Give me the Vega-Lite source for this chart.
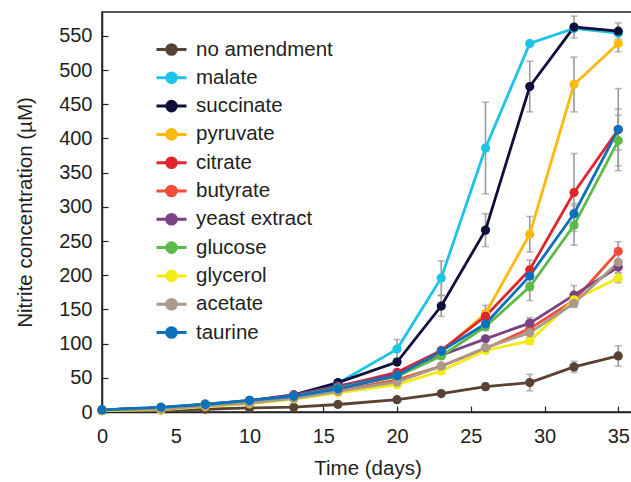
{
  "$schema": "https://vega.github.io/schema/vega-lite/v6.json",
  "autosize": {"type": "none"},
  "padding": {"left": 102, "top": 12, "right": 0, "bottom": 70},
  "width": 531,
  "height": 400,
  "background": "white",
  "config": {
    "font": "Liberation Sans",
    "view": {"stroke": "#222", "strokeWidth": 1.5},
    "axis": {"labelFontSize": 20, "titleFontSize": 20.5, "labelColor": "#231f20", "titleColor": "#231f20", "titleFontWeight": "normal", "domainColor": "#222", "domainWidth": 1.5, "tickColor": "#222", "tickWidth": 1.2, "grid": false, "labelFlush": false}
  },
  "data": {"values": [
    {"s":"no amendment","d":0,"v":2,"e":0},{"s":"no amendment","d":4,"v":3,"e":0},{"s":"no amendment","d":7,"v":4,"e":0},{"s":"no amendment","d":10,"v":6,"e":0},{"s":"no amendment","d":13,"v":7,"e":0},{"s":"no amendment","d":16,"v":11,"e":0},{"s":"no amendment","d":20,"v":18,"e":0},{"s":"no amendment","d":23,"v":27,"e":0},{"s":"no amendment","d":26,"v":37,"e":5},{"s":"no amendment","d":29,"v":43,"e":12},{"s":"no amendment","d":32,"v":66,"e":8},{"s":"no amendment","d":35,"v":82,"e":15},
    {"s":"malate","d":0,"v":3,"e":0},{"s":"malate","d":4,"v":6,"e":0},{"s":"malate","d":7,"v":11,"e":0},{"s":"malate","d":10,"v":16,"e":0},{"s":"malate","d":13,"v":24,"e":0},{"s":"malate","d":16,"v":42,"e":0},{"s":"malate","d":20,"v":92,"e":14},{"s":"malate","d":23,"v":196,"e":25},{"s":"malate","d":26,"v":386,"e":67},{"s":"malate","d":29,"v":539,"e":0},{"s":"malate","d":32,"v":561,"e":0},{"s":"malate","d":35,"v":554,"e":0},
    {"s":"succinate","d":0,"v":3,"e":0},{"s":"succinate","d":4,"v":6,"e":0},{"s":"succinate","d":7,"v":11,"e":0},{"s":"succinate","d":10,"v":16,"e":0},{"s":"succinate","d":13,"v":25,"e":0},{"s":"succinate","d":16,"v":43,"e":0},{"s":"succinate","d":20,"v":73,"e":0},{"s":"succinate","d":23,"v":155,"e":15},{"s":"succinate","d":26,"v":266,"e":24},{"s":"succinate","d":29,"v":476,"e":37},{"s":"succinate","d":32,"v":563,"e":16},{"s":"succinate","d":35,"v":557,"e":12},
    {"s":"pyruvate","d":0,"v":3,"e":0},{"s":"pyruvate","d":4,"v":5,"e":0},{"s":"pyruvate","d":7,"v":10,"e":0},{"s":"pyruvate","d":10,"v":14,"e":0},{"s":"pyruvate","d":13,"v":21,"e":0},{"s":"pyruvate","d":16,"v":35,"e":0},{"s":"pyruvate","d":20,"v":55,"e":0},{"s":"pyruvate","d":23,"v":88,"e":0},{"s":"pyruvate","d":26,"v":144,"e":12},{"s":"pyruvate","d":29,"v":260,"e":26},{"s":"pyruvate","d":32,"v":479,"e":40},{"s":"pyruvate","d":35,"v":539,"e":12},
    {"s":"citrate","d":0,"v":3,"e":0},{"s":"citrate","d":4,"v":6,"e":0},{"s":"citrate","d":7,"v":11,"e":0},{"s":"citrate","d":10,"v":16,"e":0},{"s":"citrate","d":13,"v":24,"e":0},{"s":"citrate","d":16,"v":37,"e":0},{"s":"citrate","d":20,"v":58,"e":0},{"s":"citrate","d":23,"v":90,"e":0},{"s":"citrate","d":26,"v":140,"e":8},{"s":"citrate","d":29,"v":208,"e":14},{"s":"citrate","d":32,"v":321,"e":57},{"s":"citrate","d":35,"v":413,"e":60},
    {"s":"butyrate","d":0,"v":3,"e":0},{"s":"butyrate","d":4,"v":5,"e":0},{"s":"butyrate","d":7,"v":9,"e":0},{"s":"butyrate","d":10,"v":13,"e":0},{"s":"butyrate","d":13,"v":20,"e":0},{"s":"butyrate","d":16,"v":31,"e":0},{"s":"butyrate","d":20,"v":47,"e":0},{"s":"butyrate","d":23,"v":67,"e":0},{"s":"butyrate","d":26,"v":93,"e":0},{"s":"butyrate","d":29,"v":122,"e":0},{"s":"butyrate","d":32,"v":163,"e":8},{"s":"butyrate","d":35,"v":235,"e":14},
    {"s":"yeast extract","d":0,"v":3,"e":0},{"s":"yeast extract","d":4,"v":6,"e":0},{"s":"yeast extract","d":7,"v":11,"e":0},{"s":"yeast extract","d":10,"v":17,"e":0},{"s":"yeast extract","d":13,"v":25,"e":0},{"s":"yeast extract","d":16,"v":38,"e":0},{"s":"yeast extract","d":20,"v":55,"e":0},{"s":"yeast extract","d":23,"v":83,"e":0},{"s":"yeast extract","d":26,"v":107,"e":0},{"s":"yeast extract","d":29,"v":130,"e":8},{"s":"yeast extract","d":32,"v":171,"e":14},{"s":"yeast extract","d":35,"v":212,"e":8},
    {"s":"glucose","d":0,"v":3,"e":0},{"s":"glucose","d":4,"v":6,"e":0},{"s":"glucose","d":7,"v":12,"e":0},{"s":"glucose","d":10,"v":16,"e":0},{"s":"glucose","d":13,"v":23,"e":0},{"s":"glucose","d":16,"v":35,"e":0},{"s":"glucose","d":20,"v":52,"e":0},{"s":"glucose","d":23,"v":82,"e":0},{"s":"glucose","d":26,"v":125,"e":0},{"s":"glucose","d":29,"v":183,"e":20},{"s":"glucose","d":32,"v":273,"e":29},{"s":"glucose","d":35,"v":397,"e":37},
    {"s":"glycerol","d":0,"v":2,"e":0},{"s":"glycerol","d":4,"v":3,"e":0},{"s":"glycerol","d":7,"v":8,"e":0},{"s":"glycerol","d":10,"v":12,"e":0},{"s":"glycerol","d":13,"v":19,"e":0},{"s":"glycerol","d":16,"v":28,"e":0},{"s":"glycerol","d":20,"v":40,"e":0},{"s":"glycerol","d":23,"v":60,"e":0},{"s":"glycerol","d":26,"v":90,"e":0},{"s":"glycerol","d":29,"v":104,"e":5},{"s":"glycerol","d":32,"v":164,"e":0},{"s":"glycerol","d":35,"v":196,"e":7},
    {"s":"acetate","d":0,"v":3,"e":0},{"s":"acetate","d":4,"v":4,"e":0},{"s":"acetate","d":7,"v":9,"e":0},{"s":"acetate","d":10,"v":13,"e":0},{"s":"acetate","d":13,"v":20,"e":0},{"s":"acetate","d":16,"v":30,"e":0},{"s":"acetate","d":20,"v":44,"e":0},{"s":"acetate","d":23,"v":67,"e":0},{"s":"acetate","d":26,"v":94,"e":0},{"s":"acetate","d":29,"v":116,"e":0},{"s":"acetate","d":32,"v":159,"e":6},{"s":"acetate","d":35,"v":219,"e":0},
    {"s":"taurine","d":0,"v":3,"e":0},{"s":"taurine","d":4,"v":7,"e":0},{"s":"taurine","d":7,"v":11,"e":0},{"s":"taurine","d":10,"v":17,"e":0},{"s":"taurine","d":13,"v":23,"e":0},{"s":"taurine","d":16,"v":34,"e":0},{"s":"taurine","d":20,"v":53,"e":0},{"s":"taurine","d":23,"v":89,"e":0},{"s":"taurine","d":26,"v":129,"e":10},{"s":"taurine","d":29,"v":199,"e":10},{"s":"taurine","d":32,"v":290,"e":15},{"s":"taurine","d":35,"v":413,"e":30}
  ]},
  "encoding": {
    "x": {"field": "d", "type": "quantitative", "scale": {"domain": [0, 36], "nice": false}, "axis": {"values": [0,5,10,15,20,25,30,35], "title": "Time (days)", "tickSize": -6, "labelPadding": 20, "titlePadding": 12}},
    "y": {"field": "v", "type": "quantitative", "scale": {"domain": [0, 585], "nice": false}, "axis": {"values": [0,50,100,150,200,250,300,350,400,450,500,550], "title": "Nitrite concentration (µM)", "tickSize": -6, "labelPadding": 16, "titlePadding": 23}}
  },
  "layer": [
    {
      "transform": [{"filter": "datum.e > 0"}],
      "mark": {"type": "errorbar", "ticks": {"size": 7, "color": "#9a9a9a"}, "rule": {"color": "#9a9a9a", "strokeWidth": 1.6}, "thickness": 1.6},
      "encoding": {"yError": {"field": "e"}}
    },
    {
      "mark": {"type": "line", "strokeWidth": 2.8},
      "encoding": {
        "color": {"field": "s", "type": "nominal",
          "scale": {"domain": ["no amendment","malate","succinate","pyruvate","citrate","butyrate","yeast extract","glucose","glycerol","acetate","taurine"],
                    "range": ["#5a4232","#1ec3e8","#0e0f3b","#fdb813","#e2252b","#f04e37","#7a4285","#5bbb46","#f3ea13","#a99a8d","#0b70bd"]},
          "legend": {"orient": "none", "legendX": 58, "legendY": 26, "title": null, "labelFontSize": 20.5, "labelColor": "#231f20", "symbolType": "M-1.5,0H1.5M-0.48,0A0.48,0.48 0 1,1 0.48,0A0.48,0.48 0 1,1 -0.48,0Z", "symbolSize": 400, "symbolStrokeWidth": 3, "rowPadding": 5.3, "labelOffset": 13,
            "encode": {"symbols": {"update": {"stroke": {"scale": "color", "field": "value"}, "fill": {"scale": "color", "field": "value"}, "fillOpacity": {"value": 1}}}}}
        },
        "order": {"field": "d", "type": "quantitative"}
      }
    },
    {
      "mark": {"type": "point", "filled": true, "size": 85, "opacity": 1},
      "encoding": {"color": {"field": "s", "type": "nominal"}}
    }
  ]
}
